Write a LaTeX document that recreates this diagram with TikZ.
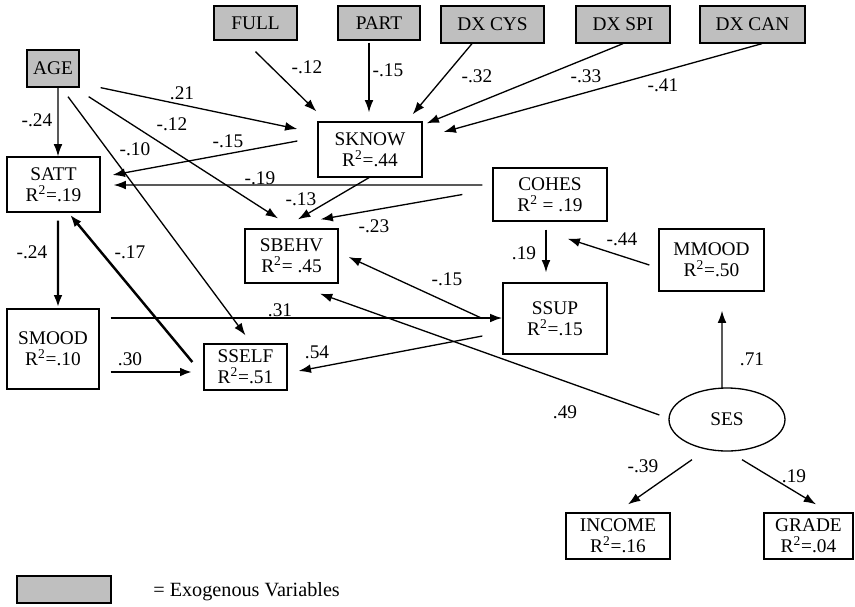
\documentclass[tikz,border=0pt]{standalone}
\usepackage{fontspec}
\setmainfont{Liberation Serif}
\usetikzlibrary{arrows.meta,shapes.geometric}
\newcommand{\rsq}[1]{R\textsuperscript{2}#1}

\begin{document}
\begin{tikzpicture}[x=0.02cm, y=-0.02cm,
	font=\fontsize{11}{12}\selectfont,
	var/.style={draw, line width=0.75pt, align=center, inner sep=1pt},
	exo/.style={var, fill=black!25},
	eff/.style={line width=0.75pt, -{Latex[length=7pt,width=5pt]}},
	effthick/.style={eff, line width=1.4pt},
	coef/.style={inner sep=0pt}]
	\useasboundingbox (0,0) rectangle (855,606);
	% exogenous variables
	\node[exo, minimum width=1.66cm, minimum height=0.68cm] (full) at (255.5,23) {FULL};
	\node[exo, minimum width=1.64cm, minimum height=0.68cm] (part) at (379,23) {PART};
	\node[exo, minimum width=2.06cm, minimum height=0.74cm] (dxcys) at (492.5,24.5) {DX CYS};
	\node[exo, minimum width=1.88cm, minimum height=0.74cm] (dxspi) at (623,24.5) {DX SPI};
	\node[exo, minimum width=2.10cm, minimum height=0.74cm] (dxcan) at (752.5,24.5) {DX CAN};
	\node[exo, minimum width=1.04cm, minimum height=0.74cm] (age) at (53,68.5) {AGE};
	% endogenous variables
	\node[var, minimum width=1.86cm, minimum height=1.10cm] (satt) at (53.5,184.5) {SATT\\\rsq{=.19}};
	\node[var, minimum width=2.08cm, minimum height=1.10cm] (sknow) at (370,149.5) {SKNOW\\\rsq{=.44}};
	\node[var, minimum width=2.28cm, minimum height=1.06cm] (cohes) at (550,194.5) {COHES\\\rsq{ = .19}};
	\node[var, minimum width=1.86cm, minimum height=1.08cm] (sbehv) at (291.5,256) {SBEHV\\\rsq{= .45}};
	\node[var, minimum width=1.84cm, minimum height=1.60cm] (smood) at (53,349) {SMOOD\\\rsq{=.10}};
	\node[var, minimum width=1.66cm, minimum height=0.92cm] (sself) at (245.5,367) {SSELF\\\rsq{=.51}};
	\node[var, minimum width=2.08cm, minimum height=1.42cm] (ssup) at (555,318.5) {SSUP\\\rsq{=.15}};
	\node[var, minimum width=2.10cm, minimum height=1.24cm] (mmood) at (711.5,260) {MMOOD\\\rsq{=.50}};
	\node[var, ellipse, inner sep=0pt, minimum width=2.32cm, minimum height=1.26cm] (ses) at (727,419.5) {SES};
	\node[var, minimum width=2.08cm, minimum height=0.92cm] (income) at (618,536) {INCOME\\\rsq{=.16}};
	\node[var, minimum width=1.78cm, minimum height=0.92cm] (grade) at (808.5,536) {GRADE\\\rsq{=.04}};
	% paths into SKNOW
	\draw[eff] ([shift={(0,11)}]full.south) -- ([shift={(-1,-10)}]sknow.north west);
	\node[coef] (c1) at (307,67) {-.12};
	\draw[eff] ([shift={(-10,2)}]part.south) -- ([shift={(-1,-9)}]sknow.north);
	\node[coef] (c2) at (388,70) {-.15};
	\draw[eff] ([shift={(-20.5,0)}]dxcys.south) -- ([shift={(-10,-7)}]sknow.north east);
	\node[coef] (c3) at (477,76) {-.32};
	\draw[eff] (dxspi.south) -- ([shift={(4,2)}]sknow.north east);
	\node[coef] (c4) at (586,76) {-.33};
	\draw[eff] ([shift={(9.5,0)}]dxcan.south) -- ([shift={(21,-17.5)}]sknow.east);
	\node[coef] (c5) at (663,85) {-.41};
	\draw[eff] ([shift={(21,0)}]age.south east) -- ([shift={(-20,-20.5)}]sknow.west);
	\node[coef] (c6) at (182,93) {.21};
	% paths from AGE
	\draw[eff] ([shift={(5,0)}]age.south) -- ([shift={(4.5,0)}]satt.north);
	\node[coef] (c7) at (37,120) {-.24};
	\draw[eff] ([shift={(9,9)}]age.south east) -- ([shift={(-13.5,-10)}]sbehv.north);
	\node[coef] (c8) at (172,124) {-.12};
	\draw[eff] ([shift={(15,9)}]age.south) -- ([shift={(0,-8)}]sself.north);
	\node[coef] (c9) at (135,149) {-.10};
	% paths into SATT and SBEHV
	\draw[eff] ([shift={(-20,-8.5)}]sknow.west) -- ([shift={(12,-9.5)}]satt.east);
	\node[coef] (c10) at (228,141) {-.15};
	\draw[eff] ([shift={(-10,-9.5)}]cohes.west) -- ([shift={(13,0.5)}]satt.east);
	\node[coef] (c11) at (260,178) {-.19};
	\draw[eff] ([shift={(-1,0)}]sknow.south) -- ([shift={(6.5,-9)}]sbehv.north);
	\node[coef] (c12) at (301,199) {-.13};
	\draw[eff] ([shift={(-30,0)}]cohes.west) -- ([shift={(-18,-9)}]sbehv.north east);
	\node[coef] (c13) at (374,226) {-.23};
	\draw[eff] ([shift={(-20,0)}]ssup.west) -- ([shift={(10,1)}]sbehv.east);
	\node[coef] (c14) at (447,279) {-.15};
	\draw[eff] ([shift={(-9,-4.5)}]ses.west) -- ([shift={(28.5,10)}]sbehv.south);
	\node[coef] (c15) at (565,412) {.49};
	% COHES, SSUP and MMOOD
	\draw[eff] ([shift={(-4,8)}]cohes.south) -- ([shift={(-9,-10)}]ssup.north);
	\node[coef] (c16) at (524,253) {.19};
	\draw[eff] ([shift={(-9,5)}]mmood.west) -- ([shift={(-40,17)}]cohes.south east);
	\node[coef] (c17) at (622,239) {-.44};
	\draw[eff] ([shift={(-5,1)}]ses.north) -- ([shift={(10.5,19)}]mmood.south);
	\node[coef] (c18) at (752,359) {.71};
	% the SMOOD loop
	\draw[effthick] ([shift={(4.5,8)}]satt.south) -- ([shift={(5,-1)}]smood.north);
	\node[coef] (c19) at (32,252) {-.24};
	\draw[effthick] ([shift={(-11,-5)}]sself.west) -- ([shift={(16.5,2)}]satt.south);
	\node[coef] (c20) at (130,252) {-.17};
	\draw[effthick] ([shift={(11,23)}]smood.east) -- ([shift={(-11,5)}]sself.west);
	\node[coef] (c21) at (130,359) {.30};
	\draw[eff, line width=1pt] ([shift={(11,-31)}]smood.east) -- ([shift={(0,-0.5)}]ssup.west);
	\node[coef] (c22) at (280,310) {.31};
	\draw[eff] ([shift={(-20,17.5)}]ssup.west) -- ([shift={(11,4)}]sself.east);
	\node[coef] (c23) at (317,352) {.54};
	% SES indicators
	\draw[eff] ([shift={(-35,8)}]ses.south) -- ([shift={(10,-8)}]income.north);
	\node[coef] (c24) at (643,466) {-.39};
	\draw[eff] ([shift={(15,8)}]ses.south) -- ([shift={(7.5,-8)}]grade.north);
	\node[coef] (c25) at (794,476) {.19};
	% legend
	\node[exo, minimum width=1.88cm, minimum height=0.54cm] (key) at (64,589.5) {};
	\node[anchor=west, inner sep=0pt, font=\fontsize{11.5}{12}\selectfont] (keytext) at (153,592) {= Exogenous Variables};
\end{tikzpicture}
\end{document}
